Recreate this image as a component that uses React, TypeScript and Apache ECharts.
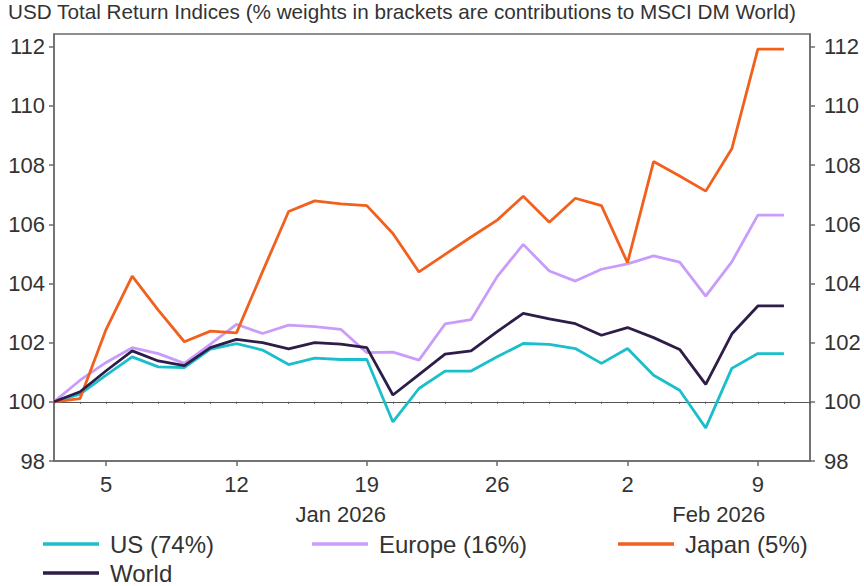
import React, { useEffect, useRef } from 'react';
import * as echarts from 'echarts';

// Trading days (category axis); the last one carries no data
const categories = [
  '1 Jan', '2 Jan', '5 Jan', '6 Jan', '7 Jan', '8 Jan', '9 Jan',
  '12 Jan', '13 Jan', '14 Jan', '15 Jan', '16 Jan',
  '19 Jan', '20 Jan', '21 Jan', '22 Jan', '23 Jan',
  '26 Jan', '27 Jan', '28 Jan', '29 Jan', '30 Jan',
  '2 Feb', '3 Feb', '4 Feb', '5 Feb', '6 Feb',
  '9 Feb', '10 Feb', '11 Feb',
];

const tickDates = ['5 Jan', '12 Jan', '19 Jan', '26 Jan', '2 Feb', '9 Feb'];
const monthAnchors = ['16 Jan', '5 Feb'];
const monthLabels = ['Jan 2026', 'Feb 2026'];
const yTicks = [98, 100, 102, 104, 106, 108, 110, 112];

const usValues = [100, 100.26, 100.9, 101.52, 101.18, 101.16, 101.78, 101.97, 101.75, 101.26, 101.48, 101.43, 101.43, 99.32, 100.45, 101.04, 101.04, 101.52, 101.97, 101.94, 101.8, 101.3, 101.8, 100.9, 100.39, 99.12, 101.13, 101.63, 101.63];
const europeValues = [100, 100.73, 101.33, 101.83, 101.63, 101.3, 101.95, 102.62, 102.31, 102.59, 102.54, 102.45, 101.66, 101.68, 101.41, 102.63, 102.78, 104.23, 105.32, 104.42, 104.08, 104.48, 104.66, 104.93, 104.72, 103.57, 104.73, 106.31, 106.31];
const japanValues = [100, 100.11, 102.45, 104.25, 103.1, 102.03, 102.39, 102.33, 104.4, 106.43, 106.79, 106.69, 106.63, 105.69, 104.39, 104.98, 105.57, 106.14, 106.95, 106.07, 106.88, 106.63, 104.7, 108.12, 107.63, 107.12, 108.55, 111.92, 111.92];
const worldValues = [100, 100.34, 101.05, 101.72, 101.38, 101.22, 101.83, 102.11, 102.0, 101.79, 102.0, 101.95, 101.83, 100.23, 100.92, 101.61, 101.72, 102.37, 102.99, 102.8, 102.64, 102.25, 102.51, 102.17, 101.77, 100.59, 102.29, 103.24, 103.24];

const seriesNames = ['US (74%)', 'Europe (16%)', 'Japan (5%)', 'World'];
const seriesColors = ['#1ABFCB', '#C99CFB', '#F2601E', '#2D1D48'];
const seriesValues = [usValues, europeValues, japanValues, worldValues];

const titleText = 'USD Total Return Indices (% weights in brackets are contributions to MSCI DM World)';
const refLevel = 100;

const FONT = '"Liberation Sans", Arial, sans-serif';

export default function App() {
  const ref = useRef<HTMLDivElement>(null);

  useEffect(() => {
    document.body.style.margin = '0';
    const chart = echarts.init(ref.current as HTMLDivElement, null, { renderer: 'svg' });

    const H = 586;
    const yMin = 98;
    const yMax = 112.43;
    const gridTop = 34;
    const gridBottom = 125;
    const gridLeft = 54;
    const gridRight = 54;
    const gridHeight = H - gridTop - gridBottom;
    const refOffset = -((refLevel - yMin) / (yMax - yMin)) * gridHeight;
    const axisColor = '#6b6b6b';
    const textColor = '#333333';

    const legendPos = [
      { left: 43, top: 531 },
      { left: 312, top: 531 },
      { left: 618, top: 531 },
      { left: 43, top: 560 },
    ];

    const yAxisCommon = {
      type: 'value',
      min: yMin,
      max: yMax,
      interval: 2,
      splitLine: { show: false },
      axisLine: { show: true, lineStyle: { color: axisColor, width: 1.5 } },
      axisTick: { show: true, length: 5, customValues: yTicks, lineStyle: { color: axisColor, width: 1.5 } },
    };

    const option: any = {
      animation: false,
      textStyle: { fontFamily: FONT },
      title: {
        text: titleText,
        left: 8,
        top: 1,
        padding: 0,
        textStyle: { fontFamily: FONT, fontSize: 20.7, fontWeight: 'normal', color: textColor },
      },
      legend: seriesNames.map((name, i) => ({
        data: [name],
        left: legendPos[i].left,
        top: legendPos[i].top,
        padding: 0,
        icon: 'rect',
        itemWidth: 56,
        itemHeight: 3.5,
        selectedMode: false,
        textStyle: { fontFamily: FONT, fontSize: 24, color: textColor, padding: [0, 0, 0, 6], lineHeight: 26 },
      })),
      grid: {
        left: gridLeft,
        right: gridRight,
        top: gridTop,
        bottom: gridBottom,
        show: true,
        borderColor: axisColor,
        borderWidth: 1.5,
        backgroundColor: 'transparent',
      },
      xAxis: [
        {
          type: 'category',
          data: categories,
          boundaryGap: false,
          position: 'bottom',
          axisLine: { show: true, onZero: false, lineStyle: { color: axisColor, width: 1.5 } },
          axisTick: {
            show: true,
            length: 5,
            interval: (_i: number, v: string) => tickDates.includes(v),
            lineStyle: { color: axisColor, width: 1.5 },
          },
          axisLabel: {
            interval: (_i: number, v: string) => tickDates.includes(v),
            formatter: (v: string) => v.split(' ')[0],
            fontFamily: FONT,
            fontSize: 22,
            color: textColor,
            margin: 12,
          },
          splitLine: { show: false },
        },
        {
          type: 'category',
          data: categories,
          boundaryGap: false,
          position: 'bottom',
          offset: 30,
          axisLine: { show: false },
          axisTick: { show: false },
          axisLabel: {
            interval: (_i: number, v: string) => monthAnchors.includes(v),
            formatter: (v: string) => {
              const k = monthAnchors.indexOf(v);
              return k === 0 ? '{a|' + monthLabels[0] + '}' : '{b|' + monthLabels[1] + '}';
            },
            rich: {
              a: { fontFamily: FONT, fontSize: 22, color: textColor },
              b: { fontFamily: FONT, fontSize: 22, color: textColor, padding: [0, 0, 0, 26] },
            },
            margin: 12,
          },
          splitLine: { show: false },
        },
        {
          type: 'category',
          data: categories,
          boundaryGap: false,
          position: 'bottom',
          offset: refOffset,
          axisLine: { show: true, onZero: false, lineStyle: { color: '#555555', width: 1 } },
          axisTick: { show: true, interval: 0, length: 2, lineStyle: { color: '#555555', width: 1 } },
          axisLabel: { show: false },
          splitLine: { show: false },
        },
      ],
      yAxis: [
        {
          ...yAxisCommon,
          position: 'left',
          axisLabel: { customValues: yTicks, fontFamily: FONT, fontSize: 22, color: textColor, margin: 9 },
        },
        {
          ...yAxisCommon,
          position: 'right',
          axisLabel: { customValues: yTicks, fontFamily: FONT, fontSize: 22, color: textColor, margin: 14 },
        },
      ],
      series: seriesNames.map((name, i) => ({
        name,
        type: 'line',
        xAxisIndex: 0,
        yAxisIndex: 0,
        data: seriesValues[i],
        showSymbol: false,
        symbol: 'none',
        color: seriesColors[i],
        lineStyle: { color: seriesColors[i], width: 2.8 },
        z: 3 + i,
      })),
    };

    chart.setOption(option);
    return () => chart.dispose();
  }, []);

  return <div ref={ref} style={{ width: 864, height: 586 }} />;
}
